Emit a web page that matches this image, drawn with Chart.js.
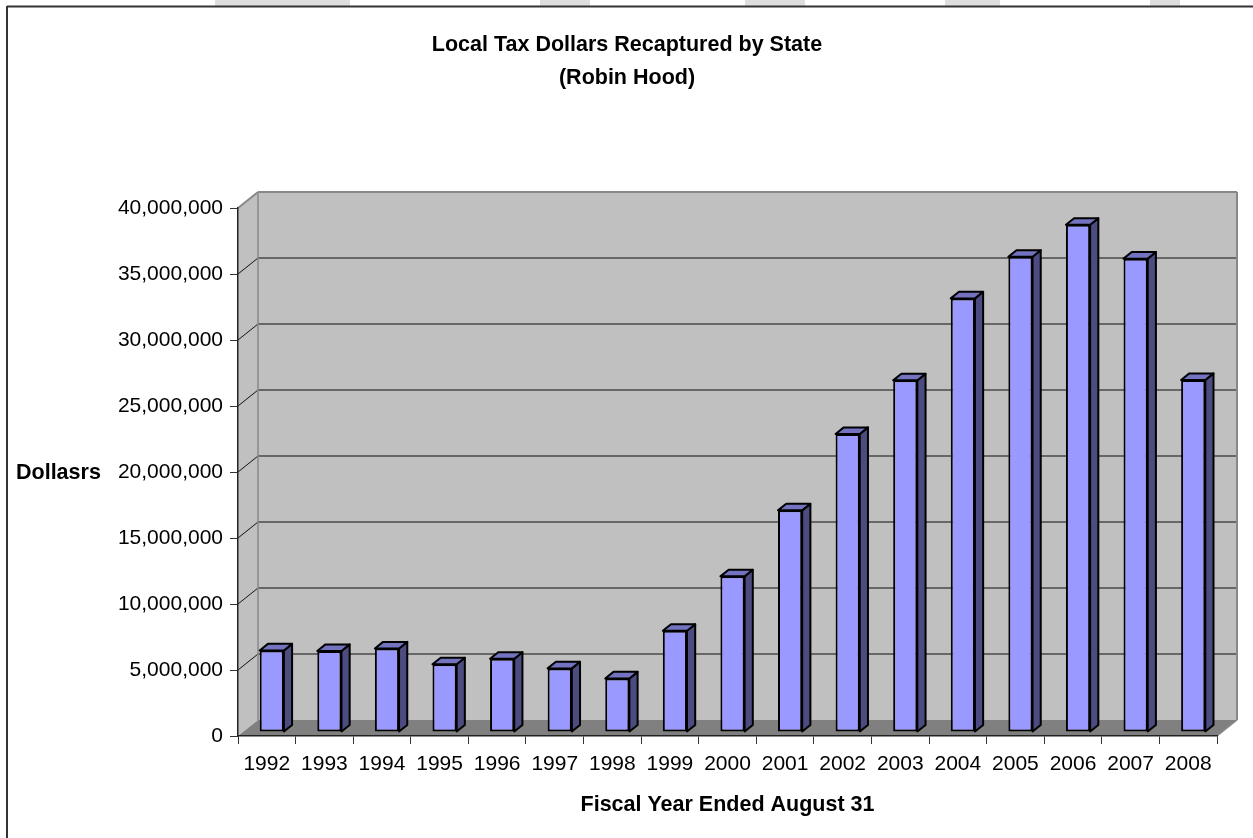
<!DOCTYPE html>
<html>
<head>
<meta charset="utf-8">
<title>Local Tax Dollars Recaptured by State</title>
<script src="https://cdn.jsdelivr.net/npm/chart.js@4/dist/chart.umd.min.js"></script>
<style>
  html, body { margin: 0; padding: 0; background: #fff; }
  canvas { display: block; }
</style>
</head>
<body>
<canvas id="recaptureChart" width="1253" height="838"></canvas>
<script>
// fiscal years and dollars recaptured
var years = ['1992', '1993', '1994', '1995', '1996', '1997', '1998', '1999', '2000',
             '2001', '2002', '2003', '2004', '2005', '2006', '2007', '2008'];
var recaptured = [6180000, 6140000, 6330000, 5130000, 5550000, 4820000, 4060000, 7670000,
                  11790000, 16790000, 22580000, 26640000, 32850000, 36000000, 38430000,
                  35860000, 26670000];
var titleLines = ['Local Tax Dollars Recaptured by State', '(Robin Hood)'];
var yMin = 0;
var yMax = 40000000;
var yStep = 5000000;

var FONT = "'Liberation Sans', Arial, sans-serif";

// depth of the 3d box, and where the bars sit inside it
var DX = 20, DY = -16;
var BAR_POS = 0.25;
var BAR_DEPTH = 0.41;

function poly(ctx, pts, fill, stroke, lw) {
    ctx.beginPath();
    ctx.moveTo(pts[0][0], pts[0][1]);
    for (var i = 1; i < pts.length; i++) ctx.lineTo(pts[i][0], pts[i][1]);
    ctx.closePath();
    if (fill) { ctx.fillStyle = fill; ctx.fill(); }
    if (stroke) { ctx.strokeStyle = stroke; ctx.lineWidth = lw || 1; ctx.stroke(); }
}

function line(ctx, x1, y1, x2, y2, color, lw) {
    ctx.beginPath();
    ctx.moveTo(x1, y1);
    ctx.lineTo(x2, y2);
    ctx.strokeStyle = color;
    ctx.lineWidth = lw;
    ctx.stroke();
}

var boxPlugin = {
    id: 'box3d',
    beforeDraw: function(chart) {
        var ctx = chart.ctx;
        var a = chart.chartArea;
        var ys = chart.scales.y;
        ctx.save();
        ctx.fillStyle = '#fff';
        ctx.fillRect(0, 0, chart.width, chart.height);

        // faint marks along the top edge
        ctx.fillStyle = '#dedede';
        [[215, 350], [540, 590], [745, 805], [945, 1000], [1150, 1180]].forEach(function(s) {
            ctx.fillRect(s[0], 0, s[1] - s[0], 6);
        });

        // outer frame (top and left only)
        line(ctx, 7, 6.5, chart.width, 6.5, '#333', 2);
        line(ctx, 7, 6, 7, chart.height, '#333', 2);

        // title, centred on the whole frame
        ctx.fillStyle = '#000';
        ctx.font = 'bold 21.5px ' + FONT;
        ctx.textAlign = 'center';
        ctx.textBaseline = 'middle';
        ctx.fillText(titleLines[0], 627, 45);
        ctx.fillText(titleLines[1], 627, 78);

        var y0 = ys.getPixelForValue(yMin);
        var yTop = ys.getPixelForValue(yMax);

        // back wall
        poly(ctx, [[a.left + DX, yTop + DY], [a.right + DX, yTop + DY],
                   [a.right + DX, y0 + DY], [a.left + DX, y0 + DY]], '#c0c0c0');
        // side wall
        poly(ctx, [[a.left, yTop], [a.left + DX, yTop + DY],
                   [a.left + DX, y0 + DY], [a.left, y0]], '#c0c0c0');
        // floor
        poly(ctx, [[a.left, y0], [a.left + DX, y0 + DY],
                   [a.right + DX, y0 + DY], [a.right, y0]], '#808080');

        // gridlines on both walls
        for (var v = yMin + yStep; v < yMax; v += yStep) {
            var y = ys.getPixelForValue(v);
            line(ctx, a.left, y, a.left + DX, y + DY, '#111', 1);
            line(ctx, a.left + DX, y + DY, a.right + DX, y + DY, '#4a4a4a', 1.5);
        }
        line(ctx, a.left, yTop, a.left + DX, yTop + DY, '#888', 2);
        line(ctx, a.left + DX, yTop + DY, a.right + DX, yTop + DY, '#888', 2);
        line(ctx, a.right + DX, yTop + DY, a.right + DX, y0 + DY, '#888', 2);
        line(ctx, a.left + DX, yTop + DY, a.left + DX, y0 + DY, '#888', 1.5);
        line(ctx, a.right, y0, a.right + DX, y0 + DY, '#888', 1.5);

        // axis title, drawn level instead of rotated
        ctx.fillStyle = '#000';
        ctx.textAlign = 'left';
        ctx.fillText('Dollasrs', 16, ys.getPixelForValue(20000000) + 1);
        ctx.restore();
    },
    beforeDatasetsDraw: function(chart) {
        chart.ctx.save();
        chart.ctx.translate(DX * BAR_POS, DY * BAR_POS);
    },
    afterDatasetsDraw: function(chart) {
        var ctx = chart.ctx;
        var sx = DX * BAR_DEPTH, sy = DY * BAR_DEPTH;
        ctx.lineJoin = 'round';
        chart.getDatasetMeta(0).data.forEach(function(bar) {
            var p = bar.getProps(['x', 'y', 'base', 'width'], true);
            var l = p.x - p.width / 2, r = p.x + p.width / 2;
            poly(ctx, [[r, p.y], [r + sx, p.y + sy], [r + sx, p.base + sy], [r, p.base]],
                 '#4c4c80', '#000', 2);
            poly(ctx, [[l, p.y], [l + sx, p.y + sy], [r + sx, p.y + sy], [r, p.y]],
                 '#7373bf', '#000', 2);
        });
        ctx.restore();
    }
};

new Chart(document.getElementById('recaptureChart'), {
    type: 'bar',
    data: {
        labels: years,
        datasets: [{
            data: recaptured,
            backgroundColor: '#9999ff',
            borderColor: '#000',
            borderWidth: 2,
            borderSkipped: false,
            categoryPercentage: 1,
            barPercentage: 0.42,
            clip: false
        }]
    },
    options: {
        responsive: false,
        animation: false,
        layout: { padding: { left: 0, right: 36, top: 208, bottom: 0 } },
        plugins: {
            legend: { display: false },
            tooltip: { enabled: false },
            title: { display: false }
        },
        scales: {
            x: {
                offset: true,
                grid: { display: true, offset: true, drawOnChartArea: false, tickLength: 8, color: '#333' },
                border: { display: true, color: '#222', width: 1.5 },
                ticks: { color: '#000', padding: 8, font: { family: FONT, size: 21 }, maxRotation: 0 },
                title: {
                    display: true,
                    text: 'Fiscal Year Ended August 31',
                    color: '#000',
                    font: { family: FONT, size: 21.5, weight: 'bold' },
                    padding: { top: 0, bottom: 20 }
                },
                afterFit: function(scale) { scale.height = 102; }
            },
            y: {
                min: yMin,
                max: yMax,
                grid: { display: true, drawOnChartArea: false, tickLength: 8, color: '#333' },
                border: { display: true, color: '#222', width: 1.5 },
                ticks: {
                    stepSize: yStep,
                    color: '#000',
                    padding: 7,
                    font: { family: FONT, size: 21 },
                    callback: function(v) { return v.toLocaleString('en-US'); }
                },
                afterFit: function(scale) { scale.width = 238; }
            }
        }
    },
    plugins: [boxPlugin]
});
</script>
</body>
</html>
